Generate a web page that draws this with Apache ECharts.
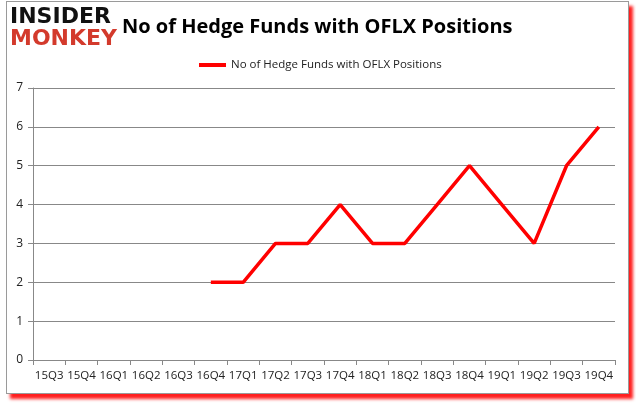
<!DOCTYPE html>
<html><head><meta charset="utf-8">
<script src="https://cdn.jsdelivr.net/npm/echarts@6/dist/echarts.min.js"></script>
<style>
html,body{margin:0;padding:0;background:#fff;}
#frame{position:absolute;left:6px;top:1px;width:621px;height:391px;border:1px solid #9a9a9a;box-shadow:4px 5px 3px #ff2020;background:#fff;}
#c{position:absolute;left:0;top:0;width:636px;height:405px;}
</style></head>
<body>
<div id="frame"></div>
<div id="c"></div>
<script>
var categories = ['15Q3','15Q4','16Q1','16Q2','16Q3','16Q4','17Q1','17Q2','17Q3','17Q4','18Q1','18Q2','18Q3','18Q4','19Q1','19Q2','19Q3','19Q4'];
var fundCounts = [null,null,null,null,null,2,2,3,3,4,3,3,4,5,4,3,5,6];
var seriesName = 'No of Hedge Funds with OFLX Positions';
var yTicks = {min:0, max:7, interval:1};

var chart = echarts.init(document.getElementById('c'), null, {renderer:'canvas'});
chart.setOption({
  backgroundColor:'transparent',
  animation:false,
  title:{text:'No of Hedge Funds with OFLX Positions', left:117, top:12,
    textStyle:{fontFamily:'Open Sans', fontWeight:'bold', fontSize:20, color:'#000'}},
  graphic:[
    {type:'text', left:10, top:6, style:{text:'INSIDER', font:'900 22px "DejaVu Sans"', fill:'#111'}},
    {type:'text', left:10, top:28, style:{text:'MONKEY', font:'900 22px "DejaVu Sans"', fill:'#d33a2c'}}
  ],
  legend:{left:194, top:54, icon:'rect', itemWidth:27, itemHeight:4, itemGap:4,
    textStyle:{fontFamily:'Open Sans', fontSize:11.5, color:'#222'}},
  grid:{left:33, right:21, top:88, bottom:45, containLabel:false},
  xAxis:{type:'category', data:categories, boundaryGap:true,
    axisLine:{lineStyle:{color:'#888'}},
    axisTick:{show:true, length:5, lineStyle:{color:'#888'}},
    axisLabel:{fontFamily:'Open Sans', fontSize:11.5, color:'#222', margin:10, interval:0}},
  yAxis:{type:'value', min:yTicks.min, max:yTicks.max, interval:yTicks.interval,
    axisLine:{show:true, lineStyle:{color:'#888'}},
    axisTick:{show:true, length:5, lineStyle:{color:'#888'}},
    splitLine:{lineStyle:{color:'#888'}},
    axisLabel:{fontFamily:'Open Sans', fontSize:12, color:'#222', margin:10}},
  series:[{name:seriesName, type:'line', data:fundCounts, showSymbol:false, symbol:'none',
    connectNulls:false, lineStyle:{color:'#ff0000', width:3.5}, itemStyle:{color:'#ff0000'}}]
});
</script>
</body></html>
